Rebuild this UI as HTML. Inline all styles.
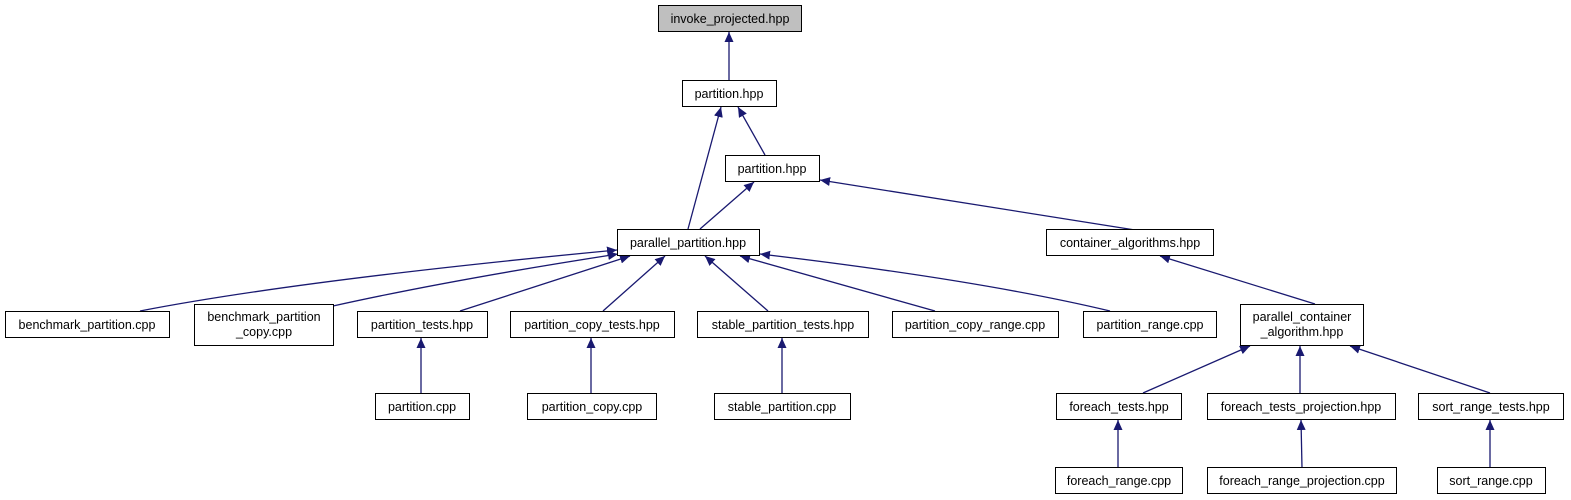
<!DOCTYPE html>
<html><head><meta charset="utf-8"><style>
html,body{margin:0;padding:0;background:#fff;}
svg{display:block;}
text{font-family:"Liberation Sans",Arial,sans-serif;font-size:12.5px;fill:#000;}
</style></head><body>
<svg width="1571" height="500" viewBox="0 0 1571 500" xmlns="http://www.w3.org/2000/svg">
<defs>
<marker id="a" markerWidth="10" markerHeight="9" refX="10" refY="4.5" orient="auto" markerUnits="userSpaceOnUse">
<path d="M0,0 L10,4.5 L0,9 Z" fill="#191970"/>
</marker>
</defs>
<g stroke="#191970" stroke-width="1.3" fill="none" marker-end="url(#a)">
<path d="M729,80 L729,32"/>
<path d="M688,229 L721,107"/>
<path d="M765,155 L738,107"/>
<path d="M700,229 L754,182"/>
<path d="M1135,230 L820,180"/>
<path d="M140,311 Q300,280 617,250"/>
<path d="M333,306 Q450,280 618,254"/>
<path d="M460,311 L630,256"/>
<path d="M603,311 L665,256"/>
<path d="M768,311 L705,256"/>
<path d="M935,311 L740,256"/>
<path d="M1110,311 Q980,280 760,254"/>
<path d="M1315,304 L1160,256"/>
<path d="M421,393 L421,338"/>
<path d="M591,393 L591,338"/>
<path d="M782,393 L782,338"/>
<path d="M1143,393 L1250,346"/>
<path d="M1300,393 L1300,346"/>
<path d="M1490,393 L1350,346"/>
<path d="M1118,468 L1118,420"/>
<path d="M1302,468 L1301,420"/>
<path d="M1490,468 L1490,420"/>
</g>
<g stroke="#000" stroke-width="1" fill="#fff">
<rect x="658.5" y="5.5" width="143" height="26" fill="#bfbfbf"/>
<rect x="682.5" y="80.5" width="94" height="26"/>
<rect x="725.5" y="155.5" width="94" height="26"/>
<rect x="617.5" y="229.5" width="142" height="26"/>
<rect x="1046.5" y="229.5" width="167" height="26"/>
<rect x="5.5" y="311.5" width="164" height="26"/>
<rect x="194.5" y="304.5" width="139" height="41"/>
<rect x="357.5" y="311.5" width="130" height="26"/>
<rect x="510.5" y="311.5" width="164" height="26"/>
<rect x="697.5" y="311.5" width="171" height="26"/>
<rect x="892.5" y="311.5" width="166" height="26"/>
<rect x="1083.5" y="311.5" width="133" height="26"/>
<rect x="1240.5" y="304.5" width="123" height="41"/>
<rect x="375.5" y="393.5" width="94" height="26"/>
<rect x="527.5" y="393.5" width="129" height="26"/>
<rect x="714.5" y="393.5" width="136" height="26"/>
<rect x="1056.5" y="393.5" width="125" height="26"/>
<rect x="1207.5" y="393.5" width="188" height="26"/>
<rect x="1418.5" y="393.5" width="145" height="26"/>
<rect x="1055.5" y="467.5" width="127" height="26"/>
<rect x="1207.5" y="467.5" width="189" height="26"/>
<rect x="1437.5" y="467.5" width="108" height="26"/>
</g>
<g text-anchor="middle">
<text x="730" y="23">invoke_projected.hpp</text>
<text x="729" y="98">partition.hpp</text>
<text x="772" y="173">partition.hpp</text>
<text x="688" y="247">parallel_partition.hpp</text>
<text x="1130" y="247">container_algorithms.hpp</text>
<text x="87" y="329">benchmark_partition.cpp</text>
<text x="264" y="321">benchmark_partition</text>
<text x="264" y="336">_copy.cpp</text>
<text x="422" y="329">partition_tests.hpp</text>
<text x="592" y="329">partition_copy_tests.hpp</text>
<text x="783" y="329">stable_partition_tests.hpp</text>
<text x="975" y="329">partition_copy_range.cpp</text>
<text x="1150" y="329">partition_range.cpp</text>
<text x="1302" y="321">parallel_container</text>
<text x="1302" y="336">_algorithm.hpp</text>
<text x="422" y="411">partition.cpp</text>
<text x="592" y="411">partition_copy.cpp</text>
<text x="782" y="411">stable_partition.cpp</text>
<text x="1119" y="411">foreach_tests.hpp</text>
<text x="1301" y="411">foreach_tests_projection.hpp</text>
<text x="1491" y="411">sort_range_tests.hpp</text>
<text x="1119" y="485">foreach_range.cpp</text>
<text x="1302" y="485">foreach_range_projection.cpp</text>
<text x="1491" y="485">sort_range.cpp</text>
</g>
</svg>
</body></html>
